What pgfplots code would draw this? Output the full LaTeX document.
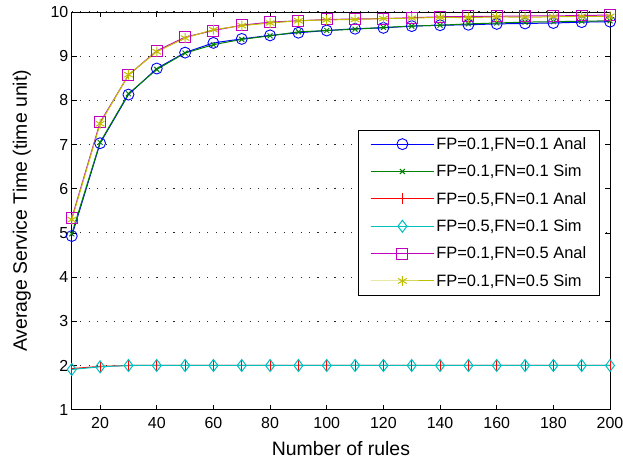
\documentclass[border=0pt]{standalone}
\usepackage{fontspec}
\setmainfont{Liberation Sans}
\usepackage{pgfplots}
\pgfplotsset{compat=1.18}
\definecolor{mblue}{rgb}{0,0,1}
\definecolor{mgreen}{rgb}{0,0.5,0}
\definecolor{mred}{rgb}{1,0,0}
\definecolor{mcyan}{rgb}{0,0.75,0.75}
\definecolor{mmag}{rgb}{0.75,0,0.75}
\definecolor{myel}{rgb}{0.75,0.75,0}
\begin{document}
\begin{tikzpicture}
\begin{axis}[
  scale only axis,
  width=540pt, height=399pt,
  xmin=10, xmax=200, ymin=1, ymax=10,
  xtick={20,40,...,200}, ytick={1,2,...,10},
  tick align=inside,
  major tick length=5pt,
  axis line style={black, line width=0.8pt},
  every tick/.style={black, line width=0.8pt},
  ymajorgrids,
  grid style={black!85, line width=1.1pt, dash pattern=on 1.1pt off 7.4pt},
  /pgf/number format/assume math mode=true,
  tick label style={font=\fontsize{16}{18}\selectfont},
  xticklabel style={yshift=-4pt},
  xlabel={Number of rules},
  ylabel={Average Service Time (time unit)},
  label style={font=\fontsize{19.5}{22}\selectfont},
  xlabel style={at={(axis description cs:0.5,-0.0977)}, anchor=center},
  ylabel style={at={(axis description cs:-0.0926,0.5)}, anchor=center},
  legend style={at={(rel axis cs:0.9815,0.7043)}, anchor=north east,
    draw=black, line width=0.8pt, fill=white,
    font=\fontsize{16.5}{18}\selectfont, row sep=11pt, inner xsep=12pt, inner ysep=6pt,
    nodes={inner sep=1.5pt}},
  legend cell align=left,
  legend image code/.code={\draw[mark repeat=2, mark phase=2] plot coordinates {(0pt,0pt) (32pt,0pt) (64pt,0pt)};},
  every axis plot/.append style={line width=1pt},
]
\addplot[mblue, mark=o, mark size=5.5pt, mark options={solid, line width=0.9pt}] coordinates {
(10,4.93)(20,7.03)(30,8.13)(40,8.72)(50,9.08)(60,9.30)(70,9.39)(80,9.47)(90,9.53)(100,9.58)
(110,9.62)(120,9.64)(130,9.68)(140,9.70)(150,9.71)(160,9.73)(170,9.74)(180,9.75)(190,9.77)(200,9.78)};
\addlegendentry{FP=0.1,FN=0.1 Anal}
\addplot[mgreen, mark=x, mark size=3.5pt, mark options={solid}] coordinates {
(10,4.98)(20,7.05)(30,8.15)(40,8.70)(50,9.07)(60,9.26)(70,9.38)(80,9.46)(90,9.55)(100,9.58)
(110,9.61)(120,9.65)(130,9.68)(140,9.70)(150,9.73)(160,9.75)(170,9.77)(180,9.78)(190,9.79)(200,9.80)};
\addlegendentry{FP=0.1,FN=0.1 Sim}
\addplot[mred, mark=|, mark size=5.5pt, mark options={solid}] coordinates {
(10,1.93)(20,1.98)(30,2.0)(40,2.0)(50,2.0)(60,2.0)(70,2.0)(80,2.0)(90,2.0)(100,2.0)
(110,2.0)(120,2.0)(130,2.0)(140,2.0)(150,2.0)(160,2.0)(170,2.0)(180,2.0)(190,2.0)(200,2.0)};
\addlegendentry{FP=0.5,FN=0.1 Anal}
\addplot[mcyan, mark=diamond, mark size=6pt, mark options={solid}] coordinates {
(10,1.91)(20,1.97)(30,2.0)(40,2.0)(50,2.0)(60,2.0)(70,2.0)(80,2.0)(90,2.0)(100,2.0)
(110,2.0)(120,2.0)(130,2.0)(140,2.0)(150,2.0)(160,2.0)(170,2.0)(180,2.0)(190,2.0)(200,2.0)};
\addlegendentry{FP=0.5,FN=0.1 Sim}
\addplot[mmag, mark=square, mark size=5.5pt, mark options={solid}] coordinates {
(10,5.33)(20,7.50)(30,8.57)(40,9.12)(50,9.43)(60,9.58)(70,9.70)(80,9.77)(90,9.80)(100,9.83)
(110,9.84)(120,9.85)(130,9.87)(140,9.89)(150,9.90)(160,9.90)(170,9.91)(180,9.91)(190,9.92)(200,9.93)};
\addlegendentry{FP=0.1,FN=0.5 Anal}
\addplot[myel, mark=asterisk, mark size=5pt, mark options={solid}] coordinates {
(10,5.30)(20,7.47)(30,8.58)(40,9.10)(50,9.41)(60,9.60)(70,9.69)(80,9.75)(90,9.80)(100,9.82)
(110,9.83)(120,9.85)(130,9.86)(140,9.88)(150,9.87)(160,9.89)(170,9.88)(180,9.89)(190,9.90)(200,9.90)};
\addlegendentry{FP=0.1,FN=0.5 Sim}
\end{axis}
\pgfresetboundingbox
\useasboundingbox ([shift={(-72pt,-59pt)}]current axis.south west) rectangle ([shift={(13pt,12pt)}]current axis.north east);
\end{tikzpicture}
\end{document}
